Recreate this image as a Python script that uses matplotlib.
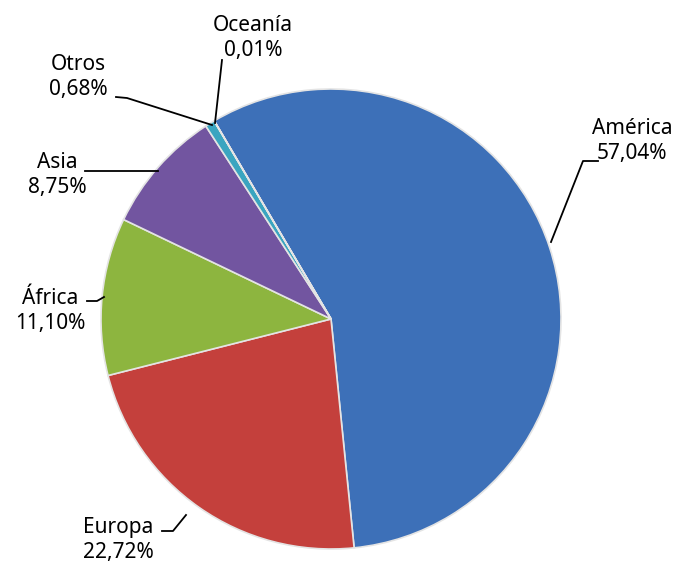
import matplotlib
matplotlib.use("Agg")
import matplotlib.pyplot as plt

labels = ["América", "Europa", "África", "Asia", "Otros", "Oceanía"]
values = [57.04, 22.72, 11.10, 8.75, 0.68, 0.01]
pct_text = ["57,04%", "22,72%", "11,10%", "8,75%", "0,68%", "0,01%"]
colors = ["#3d70b8", "#c4403c", "#8db53f", "#7255a0", "#3aa5c0", "#f79646"]

W, H = 676, 568
fig = plt.figure(figsize=(W / 100, H / 100), dpi=100)
ax = fig.add_axes([0, 0, 1, 1])

cx, cy, r = 331, 319, 230
# y axis inverted -> counterclock=True in data space appears clockwise on screen
wedges, _ = ax.pie(values, colors=colors, startangle=-120.5, counterclock=True,
                   center=(cx, cy), radius=r, frame=True,
                   wedgeprops=dict(edgecolor="#e4e4e4", linewidth=1.2))
ax.set_xlim(0, W)
ax.set_ylim(H, 0)
ax.set_aspect("equal")
ax.axis("off")

# label block centres and leader lines
label_pos = {
    "América": (632, 141),
    "Europa": (118, 540),
    "África": (50, 311),
    "Asia": (57, 175),
    "Otros": (78, 77),
    "Oceanía": (253, 38),
}
leaders = {
    "América": [(598, 161), (583, 161), (551, 242)],
    "Europa": [(162, 531), (173, 531), (186, 515)],
    "África": [(87, 301), (97, 301), (104, 297)],
    "Asia": [(85, 171), (158, 171)],
    "Otros": [(116, 97), (127, 98), (212, 125)],
    "Oceanía": [(222, 60), (215, 123)],
}
font = dict(family=["Noto Sans", "DejaVu Sans"], fontsize=15, color="black")
for lab, pct in zip(labels, pct_text):
    x, y = label_pos[lab]
    ax.text(x, y, lab + "\n" + pct, ha="center", va="center",
            linespacing=1.2, **font)
    pts = leaders[lab]
    ax.plot([p[0] for p in pts], [p[1] for p in pts], color="black", lw=1.3)

fig.savefig("out.png", dpi=100, facecolor="white")
